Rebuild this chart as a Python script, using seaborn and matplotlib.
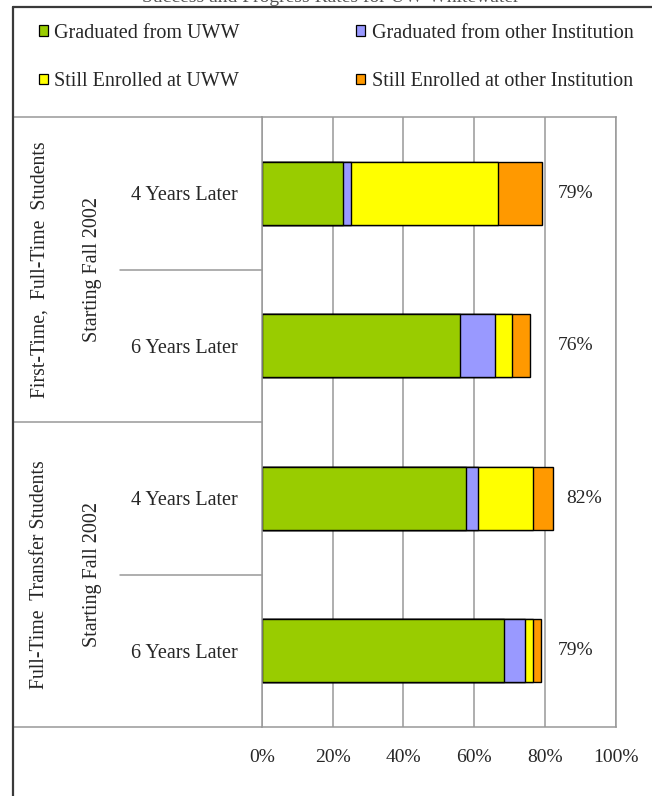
import numpy as np
import pandas as pd
import seaborn as sns
import matplotlib.pyplot as plt
from matplotlib.lines import Line2D
from matplotlib.patches import Patch
from matplotlib import transforms

# Success and progress of the 2002 cohorts (percent of cohort)
title = "Success and Progress Rates for UW-Whitewater"
groups = ["First-Time,  Full-Time  Students", "Full-Time  Transfer Students"]
cohort = "Starting Fall 2002"
periods = ["4 Years Later", "6 Years Later", "4 Years Later", "6 Years Later"]
rows = ["ft_4", "ft_6", "tr_4", "tr_6"]

series = ["Graduated from UWW", "Graduated from other Institution",
          "Still Enrolled at UWW", "Still Enrolled at other Institution"]
grad_uww = [23.0, 56.1, 57.7, 68.5]
grad_other = [2.3, 9.7, 3.4, 5.9]
enrolled_uww = [41.4, 4.8, 15.4, 2.3]
enrolled_other = [12.5, 5.1, 5.6, 2.1]
colors = ["#99CC00", "#9999FF", "#FFFF00", "#FF9900"]

xticks = [0, 20, 40, 60, 80, 100]

# long table with cumulative ends so the bars can be stacked by overlaying
vals = np.array([grad_uww, grad_other, enrolled_uww, enrolled_other])
cum = vals.cumsum(axis=0)
df = pd.DataFrame([
    {"row": r, "series": s, "end": cum[i, j]}
    for i, s in enumerate(series) for j, r in enumerate(rows)
])
totals = cum[-1]

sns.set_style("white")
plt.rcParams["font.family"] = ["Liberation Serif", "DejaVu Serif"]
plt.rcParams["font.size"] = 14.5

W, H = 652, 796
fig = plt.figure(figsize=(W / 100, H / 100), dpi=100)


def fx(px):
    return px / W


def fy(py):
    return 1 - py / H


x0, x1, y0, y1 = 261.7, 616, 117, 727
ax = fig.add_axes([fx(x0), fy(y1), fx(x1) - fx(x0), (y1 - y0) / H])

# overlay cumulative bars, longest first
for i in range(len(series) - 1, -1, -1):
    sub = df[df["series"] == series[i]]
    sns.barplot(data=sub, x="end", y="row", order=rows, color=colors[i],
                saturation=1, edgecolor="black", linewidth=1.0, width=0.41,
                orient="h", ax=ax)

grid_c = "#999999"
ax.set_xlim(0, 100)
ax.set_ylim(3.5, -0.5)
ax.set_xticks(xticks)
ax.set_xticklabels([f"{t}%" for t in xticks])
ax.xaxis.grid(True, color=grid_c, lw=1.1)
ax.set_axisbelow(True)
ax.tick_params(axis="x", length=4, color=grid_c, width=1.1, pad=12,
               labelsize=14)
ax.set_yticks(range(len(rows)))
ax.set_yticklabels(periods)
ax.tick_params(axis="y", length=0, pad=17, labelsize=14.5)
ax.set_xlabel("")
ax.set_ylabel("")
for sp in ax.spines.values():
    sp.set_color(grid_c)
    sp.set_linewidth(1.1)

# total percentage labels
for j, t in enumerate(totals):
    ax.text(max(t, 79.5) + 9, j, f"{t:.0f}%", ha="center", va="center",
            fontsize=14)

# left category table
tr = transforms.blended_transform_factory(fig.transFigure, ax.transData)
for g, name in enumerate(groups):
    fig.text(fx(40), 0, name, transform=tr, rotation=90, ha="center",
             va="center", fontsize=14.2).set_y(2 * g + 0.5)
    fig.text(fx(92), 0, cohort, transform=tr, rotation=90, ha="center",
             va="center", fontsize=14.5).set_y(2 * g + 0.5)

for yv, xa in [(-0.5, 13), (1.5, 13), (3.5, 13), (0.5, 120), (2.5, 120)]:
    fig.add_artist(Line2D([fx(xa), fx(x0)], [yv, yv], transform=tr,
                          color=grid_c, lw=1.1))

# outer chart frame
frame_c = "#3a3a3a"
fig.add_artist(Line2D([fx(13), 1], [fy(7), fy(7)], color=frame_c, lw=1.6))
fig.add_artist(Line2D([fx(13), fx(13)], [0, fy(7)], color=frame_c, lw=1.6))

# title, mostly cut off at the top edge as in the source image
fig.text(fx(331), fy(2), title, ha="center", va="baseline", fontsize=14,
         color="#555555")

# legend
handles = [Patch(facecolor=c, edgecolor="black", lw=0.9) for c in colors]
order = [0, 2, 1, 3]
fig.legend([handles[k] for k in order], [series[k] for k in order],
           ncol=2, loc="upper left", bbox_to_anchor=(fx(39), fy(24)),
           frameon=False, fontsize=14.5, handlelength=0.45, handleheight=0.45,
           handletextpad=0.3, columnspacing=5.8, labelspacing=1.45,
           borderpad=0, borderaxespad=0)

fig.savefig("out.png", dpi=100)
